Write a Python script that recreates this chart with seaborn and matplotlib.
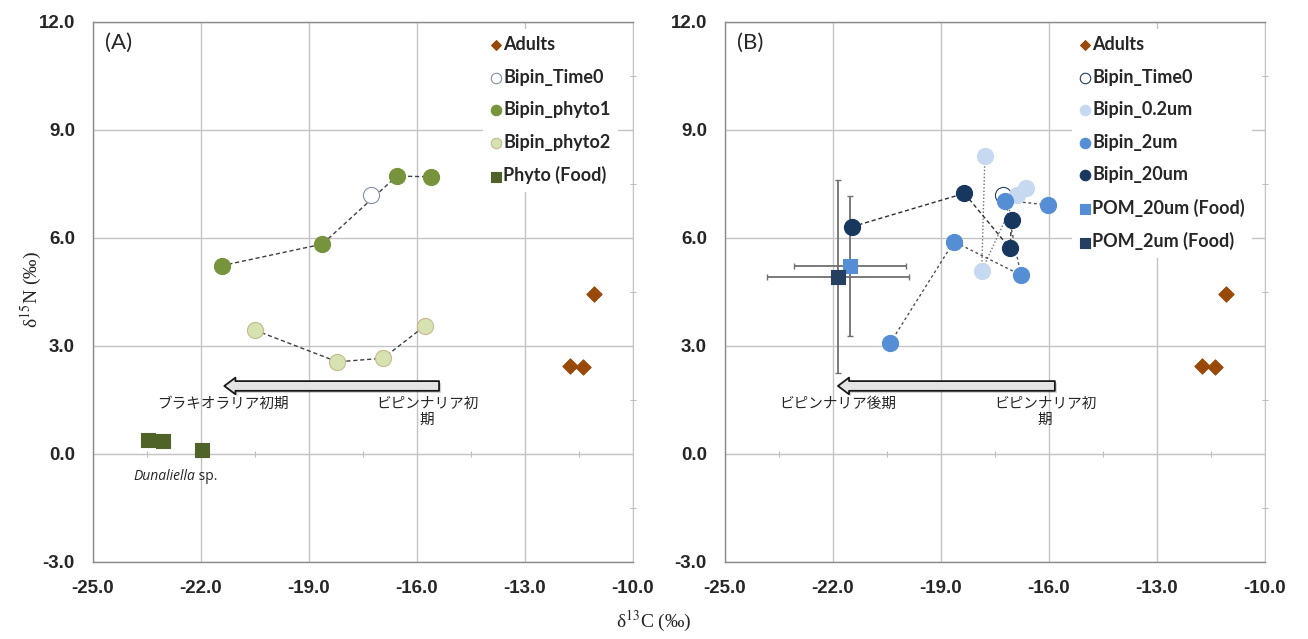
import matplotlib
matplotlib.use("Agg")
import matplotlib.pyplot as plt
import matplotlib.patheffects as pe
from matplotlib.patches import FancyArrowPatch
from matplotlib.ticker import FixedLocator, NullFormatter
import seaborn as sns

# ---- axis ticks ----
X_TICKS = [-25.0, -22.0, -19.0, -16.0, -13.0, -10.0]
Y_TICKS = [-3.0, 0.0, 3.0, 6.0, 9.0, 12.0]

# ---- panel A ----
adults_c = [-11.08, -11.75, -11.38]
adults_n = [4.44, 2.44, 2.43]
time0_c = [-17.29]
time0_n = [7.19]
phyto1_c = [-21.43, -18.63, -16.56, -15.61]
phyto1_n = [5.23, 5.83, 7.72, 7.70]
phyto2_c = [-20.50, -18.21, -16.94, -15.78]
phyto2_n = [3.44, 2.56, 2.66, 3.56]
food_c = [-23.46, -23.05, -21.96]
food_n = [0.39, 0.36, 0.12]

# ---- panel B ----
um02_c = [-17.78, -17.87, -16.90, -16.65]
um02_n = [8.28, 5.09, 7.19, 7.38]
um2_c = [-20.42, -18.64, -16.78, -17.21, -16.02]
um2_n = [3.07, 5.90, 4.97, 7.04, 6.92]
um20_c = [-21.48, -18.35, -17.08, -17.04]
um20_n = [6.31, 7.24, 5.71, 6.50]
pom20_c, pom20_n, pom20_xerr, pom20_yerr = [-21.53], [5.22], [1.55], [1.95]
pom2_c, pom2_n, pom2_xerr, pom2_yerr = [-21.87], [4.93], [1.97], [2.67]

# colours
C_ADULT = "#984807"
C_P1 = "#77933C"
C_P2 = "#D6E2B0"
C_FOOD = "#4F6228"
C_02 = "#C6D9F1"
C_2 = "#558ED5"
C_20 = "#17375E"
C_POM2 = "#243F60"

sns.set_style("white")
plt.rcParams["mathtext.fontset"] = "stix"
JP = ["Noto Sans CJK JP", "DejaVu Sans"]
SERIF = ["Liberation Serif", "DejaVu Serif"]
TICKFONT = dict(family="Liberation Sans", weight="bold", size=13.5)

fig = plt.figure(figsize=(13.08, 6.39), dpi=100)
axA = fig.add_axes([93 / 1308, 1 - 562 / 639, 540 / 1308, 540 / 639])
axB = fig.add_axes([725 / 1308, 1 - 562 / 639, 540 / 1308, 540 / 639])


def setup_axes(ax):
    ax.set_xlim(X_TICKS[0], X_TICKS[-1])
    ax.set_ylim(Y_TICKS[0], Y_TICKS[-1])
    ax.set_xticks(X_TICKS)
    ax.set_yticks(Y_TICKS)
    ax.set_xticklabels([f"{v:.1f}" for v in X_TICKS], fontdict=TICKFONT)
    ax.set_yticklabels([f"{v:.1f}" for v in Y_TICKS], fontdict=TICKFONT)
    ax.tick_params(which="major", length=0, pad=13)
    ax.grid(True, color="#C4C4C4", lw=1)
    for s in ["left", "bottom", "top"]:
        ax.spines[s].set_color("#8A8A8A")
        ax.spines[s].set_linewidth(1)
    # vertical axis crossing at x=-10 with minor ticks
    ax.spines["right"].set_color("#C4C4C4")
    ax.yaxis.set_minor_locator(FixedLocator([(a + b) / 2 for a, b in zip(Y_TICKS[:-1], Y_TICKS[1:])]))
    ax.tick_params(axis="y", which="minor", right=True, left=False, length=5,
                   direction="inout", color="#B0B0B0")
    # horizontal axis crossing at y=0 with minor ticks
    sec = ax.secondary_xaxis((0 - Y_TICKS[0]) / (Y_TICKS[-1] - Y_TICKS[0]))
    sec.set_xticks([])
    sec.xaxis.set_minor_locator(FixedLocator([(a + b) / 2 for a, b in zip(X_TICKS[:-1], X_TICKS[1:])]))
    sec.xaxis.set_minor_formatter(NullFormatter())
    sec.tick_params(which="minor", length=5, direction="inout", color="#B0B0B0")
    sec.spines["bottom"].set_color("#C4C4C4")
    ax.set_xlabel("")
    ax.set_ylabel("")


def connect(ax, xs, ys, color, ls):
    sns.lineplot(x=xs, y=ys, ax=ax, sort=False, estimator=None, color=color,
                 lw=1.0, linestyle=ls, legend=False, zorder=3)


def points(ax, xs, ys, label, face, edge, marker="o", s=135, lw=0.8):
    sns.scatterplot(x=xs, y=ys, ax=ax, marker=marker, s=s, color=face,
                    edgecolor=edge, linewidth=lw, label=label, zorder=5)


def block_arrow(ax, x0, x1, y):
    arr = FancyArrowPatch((x0, y), (x1, y), mutation_scale=1,
                          arrowstyle="simple,head_length=8,head_width=12,tail_width=7",
                          fc="#E4E4E4", ec="#1A1A1A", lw=1.3, zorder=6,
                          path_effects=[pe.withSimplePatchShadow(offset=(1.5, -1.5), alpha=0.25)])
    ax.add_patch(arr)


def add_legend(ax, x_anchor):
    h, l = ax.get_legend_handles_labels()
    leg = ax.legend(h, l, loc="upper left", bbox_to_anchor=(x_anchor, 1.004),
                    markerscale=0.65, handlelength=0.6, handletextpad=0.12,
                    labelspacing=0.86, borderpad=0.4, frameon=True, framealpha=1,
                    facecolor="white", edgecolor="none",
                    prop=dict(family="Lato", weight="bold", size=13))
    leg.set_zorder(10)


# ================= panel A =================
setup_axes(axA)
connect(axA, phyto1_c, phyto1_n, "#404040", (0, (3, 2)))
connect(axA, phyto2_c, phyto2_n, "#404040", (0, (3, 2)))
points(axA, adults_c, adults_n, "Adults", C_ADULT, C_ADULT, marker="D", s=60)
points(axA, time0_c, time0_n, "Bipin_Time0", "white", "#8090A8")
points(axA, phyto1_c, phyto1_n, "Bipin_phyto1", C_P1, C_P1)
points(axA, phyto2_c, phyto2_n, "Bipin_phyto2", C_P2, "#C8B890")
points(axA, food_c, food_n, "Phyto (Food)", C_FOOD, C_FOOD, marker="s", s=115)
add_legend(axA, 0.706)

block_arrow(axA, -15.31, -21.43, 1.89)
axA.text(-21.4, 1.60, "ブラキオラリア初期", family=JP, size=10.5, ha="center", va="top", zorder=7)
axA.text(-15.72, 1.60, "ビピンナリア初\n期", family=JP, size=10.5, ha="center", va="top",
         multialignment="center", linespacing=1.25, zorder=7)
t = axA.text(-23.89, -0.63, "Dunaliella", family="Open Sans", style="italic", size=10,
             ha="left", va="center")
axA.annotate(" sp.", xy=(1, 0), xycoords=t, va="bottom", ha="left", family="Open Sans", size=10)
axA.text(0.022, 0.962, "(A)", transform=axA.transAxes, family="Lato", size=16, va="center")

# ================= panel B =================
setup_axes(axB)
axB.errorbar(pom2_c, pom2_n, xerr=pom2_xerr, yerr=pom2_yerr, fmt="none",
             ecolor="#707070", elinewidth=1.3, capsize=2, zorder=4)
axB.errorbar(pom20_c, pom20_n, xerr=pom20_xerr, yerr=pom20_yerr, fmt="none",
             ecolor="#707070", elinewidth=1.3, capsize=2, zorder=4)
connect(axB, um02_c, um02_n, "#707070", (0, (1, 1.5)))
connect(axB, um2_c, um2_n, "#505050", (0, (2, 2)))
connect(axB, um20_c, um20_n, "#303030", (0, (3, 2)))
points(axB, adults_c, adults_n, "Adults", C_ADULT, C_ADULT, marker="D", s=60)
points(axB, time0_c, time0_n, "Bipin_Time0", "white", "#243F60")
points(axB, um02_c, um02_n, "Bipin_0.2um", C_02, C_02)
points(axB, um2_c, um2_n, "Bipin_2um", C_2, C_2)
points(axB, um20_c, um20_n, "Bipin_20um", C_20, C_20)
points(axB, pom20_c, pom20_n, "POM_20um (Food)", C_2, C_2, marker="s", s=115)
points(axB, pom2_c, pom2_n, "POM_2um (Food)", C_POM2, C_POM2, marker="s", s=115)
add_legend(axB, 0.626)

block_arrow(axB, -15.76, -21.94, 1.89)
axB.text(-21.86, 1.60, "ビピンナリア後期", family=JP, size=10.5, ha="center", va="top", zorder=7)
axB.text(-16.11, 1.60, "ビピンナリア初\n期", family=JP, size=10.5, ha="center", va="top",
         multialignment="center", linespacing=1.25, zorder=7)
axB.text(0.022, 0.962, "(B)", transform=axB.transAxes, family="Lato", size=16, va="center")

# axis titles
fig.text(0.024, 0.546, "δ$^{15}$N (‰)", rotation=90, ha="center", va="center",
         family=SERIF, size=14)
fig.text(0.5, 0.027, "δ$^{13}$C (‰)", ha="center", va="center",
         family=SERIF, size=14)

fig.savefig("out.png", dpi=100)
